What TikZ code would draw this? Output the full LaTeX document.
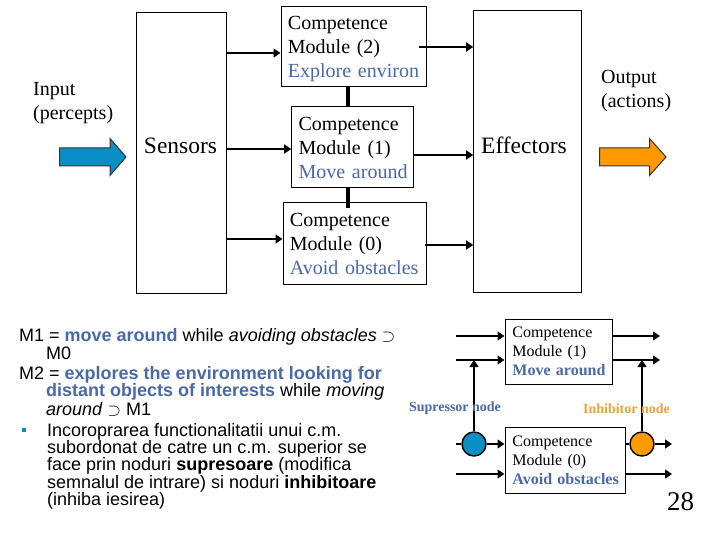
\documentclass[tikz,border=0pt]{standalone}
\usepackage{fontspec}
\setmainfont{Liberation Serif}
\newfontfamily\arialf{Liberation Sans}
\usetikzlibrary{arrows.meta}
\definecolor{tblue}{HTML}{4A69A6}
\definecolor{abblue}{HTML}{0A8FC4}
\definecolor{aborange}{HTML}{FF9900}
\definecolor{torange}{HTML}{E9A43C}
\newcommand{\fs}[1]{\fontsize{#1bp}{#1bp}\selectfont}
\newcommand{\toppad}[1]{\rule{0pt}{#1bp}}
\tikzset{
  x=1bp,y=-1bp,
  box/.style={draw=black,line width=0.9bp,inner sep=0pt,anchor=north west,fill=white},
  bigmod/.style={box,inner xsep=7bp,align=left,font=\fontsize{20bp}{24bp}\selectfont},
  smallmod/.style={box,inner xsep=7.5bp,align=left,font=\fontsize{16bp}{19bp}\selectfont},
  conn/.style={line width=1.5bp,-{Triangle[length=7bp,width=9bp]}},
  thick conn/.style={line width=3.8bp},
  plain/.style={inner sep=0pt,anchor=base west},
  body/.style={plain,font=\arialf\fs{18}},
  block/.style={draw=black!80,line width=1bp,line join=miter},
  dot/.style={circle,draw=black,line width=1.4bp,minimum size=24bp,inner sep=0pt},
  nodelabel/.style={inner sep=0pt,font=\bfseries\fs{14}},
}
\begin{document}
\begin{tikzpicture}
\useasboundingbox (0,0) rectangle (720,540);
\fill[white] (0,0) rectangle (720,540);

% sensors and effectors
\node[box,minimum width=90bp,minimum height=281bp] (sensors) at (136.2,12.3) {};
\node[box,minimum width=108bp,minimum height=282bp] (effectors) at (473.2,10) {};
\node[inner sep=0pt,font=\fs{23.5}] (sensorstxt) at (180.5,146) {Sensors};
\node[inner sep=0pt,font=\fs{23.5}] (effectorstxt) at (524,145) {Effectors};

% upper competence modules
\node[bigmod,minimum height=80bp,text width=131bp] (m2) at (280.5,6.5) {\mbox{\toppad{17}Competence}\\\mbox{Module (2)}\\\mbox{\textcolor{tblue}{Explore environ}}};
\node[bigmod,minimum height=81bp,text width=108bp] (m1) at (291.2,106.5) {\mbox{\toppad{15}Competence}\\\mbox{Module (1)}\\\mbox{\textcolor{tblue}{Move around}}};
\node[bigmod,minimum height=81bp,text width=129bp] (m0) at (282.5,202.5) {\mbox{\toppad{15}Competence}\\\mbox{Module (0)}\\\mbox{\textcolor{tblue}{Avoid obstacles}}};

\draw[thick conn] (m2.south -| 348,0) -- (m1.north -| 348,0);
\draw[thick conn] (m1.south -| 348,0) -- (348,208);

\coordinate (s2) at (226,53);
\coordinate (s1) at (226,149);
\coordinate (s0) at (226,239);
\coordinate (e2) at (419,47);
\coordinate (e1) at (413,155);
\coordinate (e0) at (425,245);
\draw[conn] (s2) -- (s2 -| m2.west);
\draw[conn] (s1) -- (s1 -| m1.west);
\draw[conn] (s0) -- (s0 -| m0.west);
\draw[conn] (e2) -- (e2 -| effectors.west);
\draw[conn] (e1) -- (e1 -| effectors.west);
\draw[conn] (e0) -- (e0 -| effectors.west);

% block arrows
\draw[block,fill=abblue] (59.5,148) -- (110,148) -- (110,138.5) -- (126,157) -- (110,175.5) -- (110,166) -- (59.5,166) -- cycle;
\draw[block,fill=aborange] (599.5,148) -- (649.5,148) -- (649.5,138.5) -- (666,157) -- (649.5,175.5) -- (649.5,166) -- (599.5,166) -- cycle;

\node[plain,align=left,anchor=north west,font=\fontsize{20bp}{24bp}\selectfont] (input) at (33,82) {Input\\(percepts)};
\node[plain,align=left,anchor=north west,font=\fontsize{20bp}{24bp}\selectfont] (output) at (601,70) {Output\\(actions)};

% lower text
\node[body] (t1) at (19,341.5) {M1 = \textcolor{tblue}{\bfseries move around} while \textit{avoiding obstacles} $\supset$};
\node[body] (t2) at (46,359) {M0};
\node[body] (t3) at (19,379) {M2 = \textcolor{tblue}{\bfseries explores the environment looking for}};
\node[body] (t4) at (46,396.5) {\textcolor{tblue}{\bfseries distant objects of interests} while \textit{moving}};
\node[body] (t5) at (46,415) {\textit{around} $\supset$ M1};
\fill[abblue] (21.5,428) rectangle (25.5,432);
\node[body] (t6) at (47,436) {Incoroprarea functionalitatii unui c.m.};
\node[body] (t7) at (47,453) {subordonat de catre un c.m. superior se};
\node[body] (t8) at (47,470.5) {face prin noduri \textbf{supresoare} (modifica};
\node[body] (t9) at (47,488) {semnalul de intrare) si noduri \textbf{inhibitoare}};
\node[body] (t10) at (47,505) {(inhiba iesirea)};

% lower diagram
\node[smallmod,minimum height=65.5bp,text width=92.5bp] (lm1) at (504.5,318.5) {\mbox{Competence}\\\mbox{Module (1)}\\\mbox{\textcolor{tblue}{\bfseries Move around}}};
\node[smallmod,minimum height=66bp,text width=105.5bp] (lm0) at (504.5,427) {\mbox{Competence}\\\mbox{Module (0)}\\\mbox{\textcolor{tblue}{\bfseries Avoid obstacles}}};

\coordinate (ia) at (456,336);
\coordinate (ib) at (456,360);
\coordinate (ic) at (456,444);
\coordinate (id) at (456,474);
\coordinate (oa) at (660,336);
\coordinate (ob) at (660,360);
\coordinate (oc) at (672,444);
\coordinate (od) at (672,474);
\node[dot,fill=abblue] (sup) at (474,444) {};
\node[dot,fill=aborange] (inh) at (642,444) {};
\coordinate (supup) at (474,360);
\coordinate (inhup) at (642,360);

\draw[conn] (ia) -- (ia -| lm1.west);
\draw[conn] (ib) -- (ib -| lm1.west);
\draw[line width=1.5bp] (ic) -- (sup);
\draw[conn] (sup) -- (ic -| lm0.west);
\draw[conn] (id) -- (id -| lm0.west);
\draw[conn] (oa -| lm1.east) -- (oa);
\draw[conn] (ob -| lm1.east) -- (ob);
\draw[line width=1.5bp] (oc -| lm0.east) -- (inh);
\draw[conn] (inh) -- (oc);
\draw[conn] (od -| lm0.east) -- (od);
\draw[conn] (sup) -- (supup);
\draw[conn] (inh) -- (inhup);

\node[nodelabel,text=tblue] (suplabel) at (455,408.5) {Supressor node};
\node[nodelabel,text=torange] (inhlabel) at (626.5,408.5) {Inhibitor node};

\node[plain,font=\fs{27}] (page) at (667,510) {28};
\end{tikzpicture}
\end{document}
